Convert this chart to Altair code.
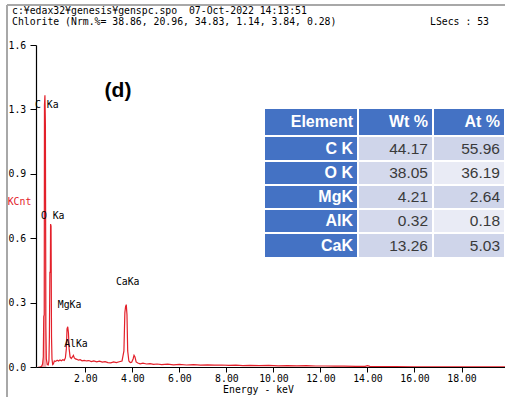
import altair as alt
import pandas as pd

# ---------------- data ----------------
energy_kev = [0.00, 0.08, 0.14, 0.18, 0.21, 0.23, 0.25, 0.26, 0.28, 0.30, 0.32, 0.34,
              0.38, 0.42, 0.45, 0.47, 0.49, 0.51, 0.52, 0.54, 0.56, 0.58, 0.61, 0.64,
              0.68, 0.74, 0.80, 0.86, 0.92, 0.98, 1.04, 1.10, 1.15, 1.19, 1.22, 1.25,
              1.28, 1.31, 1.35, 1.40, 1.45, 1.49, 1.53, 1.58, 1.64, 1.70, 1.78, 1.86,
              1.95, 2.05, 2.15, 2.25, 2.36, 2.48, 2.60, 2.72, 2.84, 2.96, 3.08, 3.20,
              3.32, 3.44, 3.56, 3.64, 3.68, 3.71, 3.74, 3.77, 3.80, 3.85, 3.91, 3.97,
              4.03, 4.07, 4.11, 4.16, 4.23, 4.33, 4.45, 4.60, 4.75, 4.90, 5.05, 5.25,
              5.50, 5.75, 6.00, 6.30, 6.60, 6.90, 7.20, 7.50, 7.80, 8.10, 8.40, 8.70,
              9.00, 9.40, 9.80, 10.2, 10.6, 11.0, 11.4, 11.8, 12.2, 12.6, 13.0, 13.5,
              13.9, 14.0, 14.1, 14.6, 15.2, 16.0, 17.0, 18.0, 19.0, 20.0]
counts_kcnt = [0.000, 0.000, 0.004, 0.015, 0.050, 0.250, 0.260, 1.300, 1.350, 1.200, 0.200, 0.040,
               0.012, 0.010, 0.030, 0.150, 0.470, 0.470, 0.710, 0.700, 0.150, 0.040, 0.012, 0.015,
               0.030, 0.028, 0.034, 0.030, 0.035, 0.031, 0.036, 0.033, 0.045, 0.090, 0.190, 0.200,
               0.170, 0.090, 0.050, 0.042, 0.050, 0.058, 0.045, 0.040, 0.038, 0.034, 0.036, 0.031,
               0.033, 0.030, 0.032, 0.027, 0.030, 0.026, 0.029, 0.024, 0.027, 0.022, 0.021, 0.025,
               0.022, 0.026, 0.030, 0.080, 0.270, 0.300, 0.310, 0.260, 0.080, 0.030, 0.022, 0.024,
               0.040, 0.058, 0.050, 0.025, 0.020, 0.016, 0.019, 0.015, 0.017, 0.013, 0.015, 0.012,
               0.014, 0.011, 0.013, 0.010, 0.012, 0.009, 0.011, 0.009, 0.010, 0.008, 0.009, 0.007,
               0.008, 0.007, 0.008, 0.006, 0.007, 0.006, 0.007, 0.005, 0.005, 0.004, 0.004, 0.003,
               0.003, 0.007, 0.003, 0.002, 0.002, 0.001, 0.001, 0.001, 0.001, 0.001]

peak_names = ["C Ka", "O Ka", "MgKa", "AlKa", "CaKa"]
peak_label_kev = [0.36, 0.61, 1.33, 1.60, 3.80]
peak_label_kcnt = [1.30, 0.75, 0.31, 0.115, 0.42]

table_headers = ["Element", "Wt %", "At %"]
elements = ["C K", "O K", "MgK", "AlK", "CaK"]
wt_pct = ["44.17", "38.05", "4.21", "0.32", "13.26"]
at_pct = ["55.96", "36.19", "2.64", "0.18", "5.03"]

ytick_values = [0, 0.32, 0.64, 0.96, 1.28, 1.6]
ytick_labels = ["0.0", "0.3", "0.6", "0.9", "1.3", "1.6"]
xtick_values = [2, 4, 6, 8, 10, 12, 14, 16, 18]

header_line1 = "c:\u00a5edax32\u00a5genesis\u00a5genspc.spo\u00a0\u00a007-Oct-2022 14:13:51"
header_line2 = "Chlorite (Nrm.%= 38.86, 20.96, 34.83, 1.14, 3.84, 0.28)"
lsecs_text = "LSecs : 53"
panel_tag = "(d)"
x_title = "Energy - keV"
y_title = "KCnt"

# ---------------- layout / style ----------------
MONO = "DejaVu Sans Mono"
MONO_SIZE = 9.8
RED = "#e3202a"
W, H = 469, 322
col_edges = [0, 94, 169, 241]
row_edges = [0, 28, 53, 77, 101, 125, 150]

spec = pd.DataFrame({"e": energy_kev, "c": counts_kcnt})
peaks = pd.DataFrame({"name": peak_names, "e": peak_label_kev, "c": peak_label_kcnt})

xs = alt.Scale(domain=[-0.1, 19.85], nice=False, zero=False)
ys = alt.Scale(domain=[0, 1.6], nice=False)

label_expr = "[" + ",".join(f"'{t}'" for t in ytick_labels) + "][indexof([" + \
    ",".join(str(v) for v in ytick_values) + "], datum.value)]"

x_enc = alt.X("e:Q", scale=xs, axis=alt.Axis(
    values=xtick_values, format=".2f", title=x_title, tickSize=5, labelPadding=1,
    labelBaseline="top", titleX=222, titleY=22, titleAlign="center", titleBaseline="middle",
    titleFont=MONO, titleFontSize=MONO_SIZE, titleFontWeight="normal"))
y_enc = alt.Y("c:Q", scale=ys, axis=alt.Axis(
    values=ytick_values, labelExpr=label_expr, title=y_title, tickSize=6, labelPadding=22,
    labelAlign="left", labelBaseline="middle", titleAngle=0, titleX=-17, titleY=156,
    titleAlign="center", titleBaseline="middle", titleColor=RED,
    titleFont=MONO, titleFontSize=MONO_SIZE, titleFontWeight="normal"))

base = alt.Chart(spec)
fill = base.transform_filter("datum.e <= 0.36").mark_area(
    color="#ee6a6f", opacity=0.55, clip=True).encode(x=x_enc, y=y_enc)
line = base.mark_line(color=RED, strokeWidth=1.2, clip=True).encode(x=x_enc, y=y_enc)

plabels = alt.Chart(peaks).mark_text(font=MONO, fontSize=MONO_SIZE, color="black",
                                     align="center", baseline="middle").encode(
    x=alt.X("e:Q", scale=xs), y=alt.Y("c:Q", scale=ys), text="name:N")

frame_left = alt.Chart(spec).mark_rule(color="#a8a8a8", strokeWidth=1.5).encode(
    x=alt.value(-29), y=alt.value(-40), y2=alt.value(H + 30))
frame_top = alt.Chart(spec).mark_rule(color="#a8a8a8", strokeWidth=1.5).encode(
    x=alt.value(-29), x2=alt.value(W), y=alt.value(-40))

def txt(s, x, y, **kw):
    opts = dict(font=MONO, fontSize=MONO_SIZE, color="black", align="left", baseline="middle")
    opts.update(kw)
    return alt.Chart(pd.DataFrame({"t": [s]})).mark_text(**opts).encode(
        x=alt.value(x), y=alt.value(y), text="t:N")

t1 = txt(header_line1, -24, -34)
t2 = txt(header_line2, -24, -23)
t3 = txt(lsecs_text, 453, -23, align="right")
tag = txt(panel_tag, 82, 46, font="Liberation Sans", fontSize=21, fontWeight="bold", align="center")

main = alt.layer(frame_left, frame_top, t1, t2, t3, tag, fill, line, plabels)

# ---------------- table ----------------
rows = []
grid = [table_headers] + [[el, w, a] for el, w, a in zip(elements, wt_pct, at_pct)]
for r, cells in enumerate(grid):
    for c, s in enumerate(cells):
        if r == 0 or c == 0:
            fillc, tcol, fw = "#4472c4", "white", "bold"
        elif r % 2 == 1:
            fillc, tcol, fw = "#cfd5ea", "#3a3a3a", "normal"
        else:
            fillc, tcol, fw = ("#d4d9ec" if c == 1 else "#e9ebf5"), "#3a3a3a", "normal"
        rows.append({"x0": col_edges[c], "x1": col_edges[c + 1],
                     "y0": row_edges[r], "y1": row_edges[r + 1],
                     "tx": col_edges[c + 1] - 5, "ty": (row_edges[r] + row_edges[r + 1]) / 2,
                     "s": s, "fill": fillc, "tcol": tcol, "fw": fw})
tab = pd.DataFrame(rows)
tx_scale = alt.Scale(domain=[0, 241], range=[228, 469], nice=False, zero=False)
ty_scale = alt.Scale(domain=[0, 150], range=[63, 213], nice=False, zero=False)

cells = alt.Chart(tab).mark_rect(stroke="white", strokeWidth=2).encode(
    x=alt.X("x0:Q", scale=tx_scale, axis=None), x2="x1:Q",
    y=alt.Y("y0:Q", scale=ty_scale, axis=None), y2="y1:Q",
    fill=alt.Fill("fill:N", scale=None))
bold_txt = alt.Chart(tab).transform_filter("datum.fw == 'bold'").mark_text(
    font="Liberation Sans", fontSize=16, fontWeight="bold", align="right", baseline="middle").encode(
    x=alt.X("tx:Q", scale=tx_scale, axis=None), y=alt.Y("ty:Q", scale=ty_scale, axis=None),
    text="s:N", color=alt.Color("tcol:N", scale=None))
norm_txt = alt.Chart(tab).transform_filter("datum.fw == 'normal'").mark_text(
    font="Liberation Sans", fontSize=15.5, align="right", baseline="middle").encode(
    x=alt.X("tx:Q", scale=tx_scale, axis=None), y=alt.Y("ty:Q", scale=ty_scale, axis=None),
    text="s:N", color=alt.Color("tcol:N", scale=None))
table = alt.layer(cells, bold_txt, norm_txt)

chart = alt.layer(main, table).resolve_scale(x="independent", y="independent").properties(
    width=W, height=H,
    autosize=alt.AutoSizeParams(type="none"),
    padding={"left": 36, "top": 45, "right": 0, "bottom": 30},
    background="white",
).configure_view(stroke=None).configure_axis(
    grid=False, domainColor="black", tickColor="black", domainWidth=1.2,
    labelFont=MONO, labelFontSize=MONO_SIZE, labelColor="black",
)

chart.save("out.html", embed_options={"renderer": "svg", "actions": False})
